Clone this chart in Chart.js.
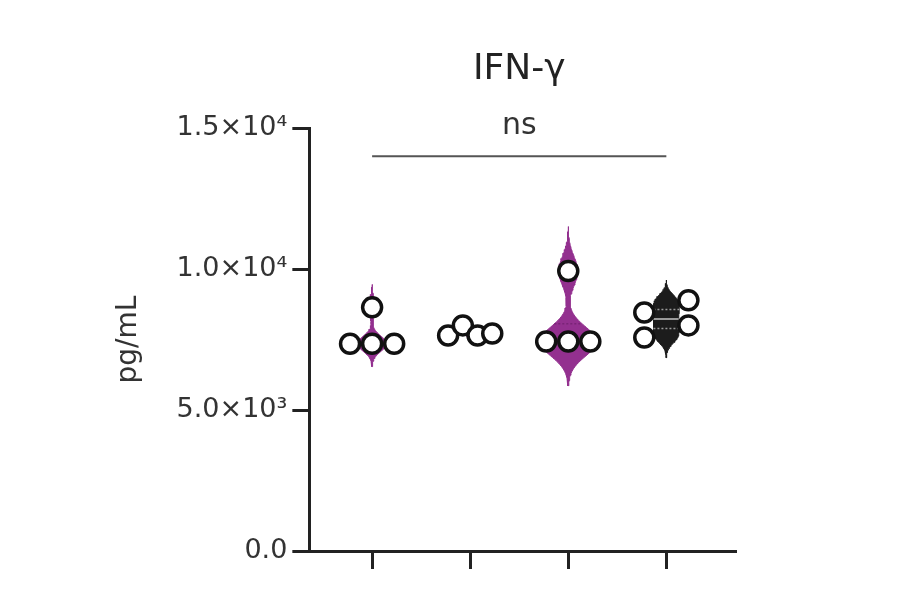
<!DOCTYPE html>
<html><head><meta charset="utf-8">
<script src="https://cdn.jsdelivr.net/npm/chart.js@4.4.1/dist/chart.umd.min.js"></script>
<style>html,body{margin:0;background:#fff}#wrap{width:900px;height:594px}</style>
</head><body><div id="wrap"><canvas id="c"></canvas></div>
<script>
// IFN-gamma violin + dots
const chartTitle='IFN-γ';
const yTitle='pg/mL';
const categories=['1','2','3','4'];
const g1=[7350,7350,7350,8640];
const g2=[7640,8000,7640,7710];
const g3=[7430,7430,9930,7430];
const g4=[8460,8890,7570,8000];
const groupVals=[g1,g2,g3,g4];
const violinColors=['#93308f','#93308f','#93308f','#1c1c1c'];
const medianColors=['#7a2477','#7a2477','#7a2477','#9a9a9a'];
const yTicks=[0,5000,10000,15000];
const yTickLabels=['0.0','5.0×10³','1.0×10⁴','1.5×10⁴'];
const sigLevel=14000, sigText='ns';

const FONT='"DejaVu Sans", sans-serif';
const INK='#222';
const binH=700, spreadW=0.45, widthK=0.00055;

function sd(a){const m=a.reduce((s,v)=>s+v,0)/a.length;return Math.sqrt(a.reduce((s,v)=>s+(v-m)**2,0)/(a.length-1));}
function kde(vals,h,y){return vals.reduce((s,v)=>s+Math.exp(-0.5*((y-v)/h)**2),0);}
function quant(a,p){const s=[...a].sort((x,y)=>x-y);const i=(s.length-1)*p;const lo=Math.floor(i);return s[lo]+(s[Math.ceil(i)]-s[lo])*(i-lo);}

function violin(vals,xc){
  const h=0.42*sd(vals);
  const lo=Math.min(...vals)-3*h, hi=Math.max(...vals)+3*h, N=90;
  const ys=[],d=[];
  for(let i=0;i<=N;i++){const y=lo+(hi-lo)*i/N;ys.push(y);d.push(kde(vals,h,y));}
  const mx=Math.max(...d);
  const hw=y=>kde(vals,h,y)/mx*h*widthK;
  const right=ys.map((y,i)=>({x:xc+d[i]/mx*h*widthK,y}));
  const left=ys.map((y,i)=>({x:xc-d[i]/mx*h*widthK,y})).reverse();
  return {outline:right.concat(left),hw};
}
function dots(vals,xc){
  const idx=vals.map((v,i)=>i).sort((a,b)=>vals[a]-vals[b]);
  const bins=[];let cur=null;
  idx.forEach(i=>{if(!cur||vals[i]-vals[cur[0]]>binH){cur=[i];bins.push(cur);}else cur.push(i);});
  const pts=[];
  bins.forEach(b=>{b.sort((a,c)=>a-c);const n=b.length;b.forEach((i,j)=>pts.push({x:xc+(n>1?(j/(n-1)-0.5)*spreadW:0),y:vals[i]}));});
  return pts;
}

const datasets=[];
groupVals.forEach((vals,gi)=>{
  const xc=gi+1;
  datasets.push({type:'scatter',data:dots(vals,xc),pointRadius:9.5,pointHoverRadius:9.5,borderWidth:3.5,borderColor:'#111',backgroundColor:'#fff',order:0});
  const v=violin(vals,xc);
  [0.5].forEach(p=>{const q=quant(vals,p);const w=v.hw(q);
    datasets.push({type:'line',data:[{x:xc-w,y:q},{x:xc+w,y:q}],borderColor:medianColors[gi],borderWidth:2,pointRadius:0,order:1});});
  [0.25,0.75].forEach(p=>{const q=quant(vals,p);const w=v.hw(q);
    datasets.push({type:'line',data:[{x:xc-w,y:q},{x:xc+w,y:q}],borderColor:medianColors[gi],borderWidth:1.5,borderDash:[2,2],pointRadius:0,order:1});});
  datasets.push({type:'line',data:v.outline,backgroundColor:violinColors[gi],borderColor:violinColors[gi],borderWidth:1,pointRadius:0,fill:'shape',tension:0,order:2});
});

const annot={id:'annot',afterDraw(ch){
  const {ctx,chartArea,scales:{x,y}}=ch;
  const x1=x.getPixelForValue(1), x4=x.getPixelForValue(categories.length);
  const cx=(x1+x4)/2, ys=y.getPixelForValue(sigLevel);
  ctx.save();
  ctx.fillStyle=INK;ctx.textAlign='center';ctx.textBaseline='middle';
  ctx.font='36px '+FONT;ctx.fillText(chartTitle,cx,chartArea.top-58);
  ctx.font='30px '+FONT;ctx.fillStyle='#333';ctx.fillText(sigText,cx,ys-30);
  ctx.strokeStyle='#555';ctx.lineWidth=2;ctx.beginPath();ctx.moveTo(x1,ys);ctx.lineTo(x4,ys);ctx.stroke();
  ctx.restore();
}};

new Chart(document.getElementById('c'),{
  type:'scatter',
  data:{datasets},
  options:{
    responsive:true,maintainAspectRatio:false,animation:false,
    layout:{padding:{left:100,right:165,top:128,bottom:25}},
    plugins:{legend:{display:false},tooltip:{enabled:false}},
    scales:{
      x:{type:'linear',min:0.36,max:4.7,
        afterBuildTicks:s=>{s.ticks=categories.map((c,i)=>({value:i+1}));},
        ticks:{display:false},
        grid:{drawOnChartArea:false,drawTicks:true,tickLength:18,color:INK,lineWidth:3},
        border:{display:true,color:INK,width:3}},
      y:{min:0,max:15000,
        afterBuildTicks:s=>{s.ticks=yTicks.map(v=>({value:v}));},
        ticks:{padding:5,color:'#333',font:{family:FONT,size:27},callback:v=>yTickLabels[yTicks.indexOf(v)]},
        grid:{drawOnChartArea:false,drawTicks:true,tickLength:17,color:INK,lineWidth:3},
        border:{display:true,color:INK,width:3},
        title:{display:true,text:yTitle,color:'#333',font:{family:FONT,size:28},padding:{top:12,bottom:26}}}
    }
  },
  plugins:[annot]
});
</script></body></html>
